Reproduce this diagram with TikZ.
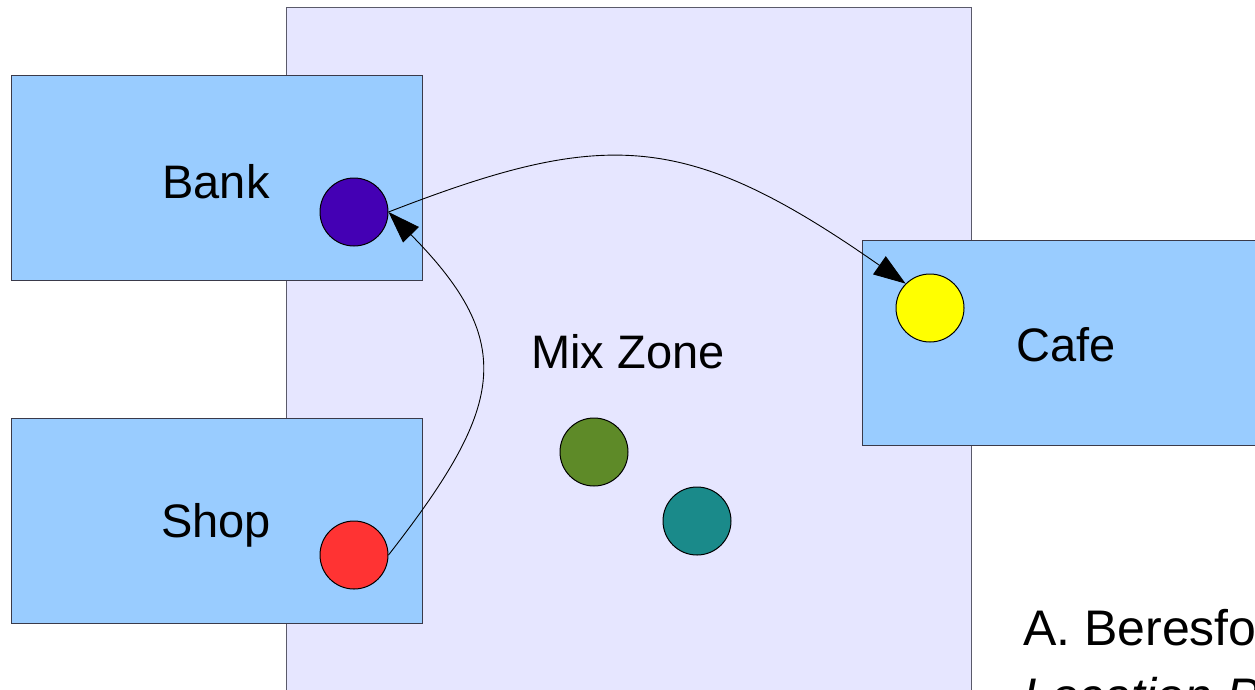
\documentclass[tikz,border=0pt]{standalone}
\usepackage{fontspec}
\setmainfont{Liberation Sans}
\usetikzlibrary{arrows.meta}
\definecolor{zonefill}{HTML}{E6E6FF}
\definecolor{zoneline}{HTML}{5A5A6A}
\definecolor{boxfill}{HTML}{99CCFF}
\definecolor{boxline}{HTML}{3A3A4A}
\definecolor{bankc}{HTML}{4400B4}
\definecolor{shopc}{HTML}{FF3333}
\definecolor{cafec}{HTML}{FFFF00}
\definecolor{greenc}{HTML}{5E8A28}
\definecolor{tealc}{HTML}{1A8A8A}
\begin{document}
\begin{tikzpicture}[x=1pt,y=-1pt,
  zonebox/.style={draw=zoneline,fill=zonefill,line width=1.2pt,inner sep=0,anchor=north west},
  placebox/.style={draw=boxline,fill=boxfill,line width=1.2pt,inner sep=0,anchor=north west,minimum width=411pt,minimum height=205pt},
  dot/.style={circle,draw=black,line width=1pt,inner sep=0,minimum size=68pt},
  lbl/.style={font=\fontsize{47}{56}\selectfont,inner sep=0},
  citetext/.style={font=\fontsize{50}{68}\selectfont,anchor=base west,inner sep=0},
  move/.style={draw=black,line width=0.9pt,-{Triangle[length=32pt,width=22pt]}}]
\useasboundingbox (0,0) rectangle (1255,689);
\clip (0,0) rectangle (1255,689);
\node[zonebox,minimum width=685pt,minimum height=720pt] (zone) at (286,7) {};
\node[placebox] (bankbox) at (11,75) {};
\node[placebox] (shopbox) at (11,418) {};
\node[placebox,minimum width=420pt] (cafebox) at (862,240) {};
\node[lbl] (banktext) at (216,182) {Bank};
\node[lbl] (shoptext) at (216,525) {Shop};
\node[lbl] (cafetext) at (1066,345) {Cafe};
\node[lbl] (zonetext) at (628,352) {Mix Zone};
\node[dot,fill=bankc] (bank) at (354,212) {};
\node[dot,fill=shopc] (shop) at (354,555) {};
\node[dot,fill=cafec] (cafe) at (930,308) {};
\node[dot,fill=greenc] (g1) at (594,452) {};
\node[dot,fill=tealc] (g2) at (697,521) {};
\node[citetext] (cite1) at (1023,645) {A. Beresford};
\node[citetext,font=\fontsize{50}{68}\selectfont\itshape] (cite2) at (1023,713) {Location Privacy};
\draw[move] (bank.east) .. controls (605,128) and (686,130) .. (cafe.north west);
\draw[move] (shop.east) .. controls (503,408) and (519,344) .. (bank.east);
\end{tikzpicture}
\end{document}
